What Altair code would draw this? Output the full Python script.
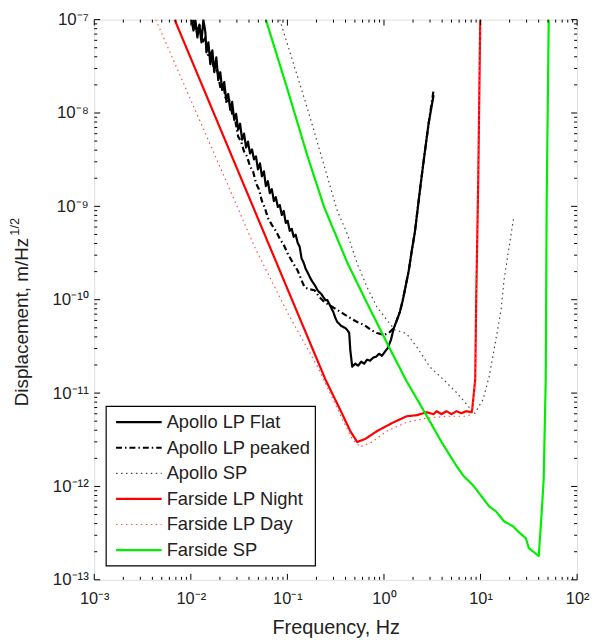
import altair as alt
import pandas as pd

# ---------------- data (log10 of frequency in Hz, log10 of displacement) ----------------
flat_logf = [-1.993, -1.973, -1.952, -1.932, -1.911, -1.890, -1.870, -1.849, -1.839, -1.818,
             -1.798, -1.777, -1.757, -1.736, -1.716, -1.695, -1.675, -1.654, -1.634, -1.613,
             -1.592, -1.572, -1.551, -1.531, -1.510, -1.490, -1.469, -1.449, -1.428, -1.408,
             -1.387, -1.366, -1.346, -1.325, -1.305, -1.284, -1.264, -1.243, -1.223, -1.202,
             -1.182, -1.161, -1.140, -1.120, -1.099, -1.079, -1.058, -1.038, -1.017, -0.997,
             -0.976, -0.955, -0.935, -0.914, -0.894, -0.873, -0.853, -0.832, -0.812, -0.791,
             -0.771, -0.750, -0.729, -0.709, -0.688, -0.668, -0.647, -0.627, -0.606, -0.586,
             -0.565, -0.545, -0.524, -0.503, -0.483, -0.462, -0.442, -0.421, -0.401, -0.380,
             -0.360, -0.349, -0.329, -0.298, -0.267, -0.236, -0.205, -0.175, -0.144, -0.113,
             -0.082, -0.051, -0.021, 0.010, 0.041, 0.072, 0.103, 0.134, 0.164, 0.195,
             0.226, 0.257, 0.288, 0.319, 0.349, 0.380, 0.421, 0.462, 0.514]
flat_logd = [-7.000, -7.117, -7.011, -7.191, -7.053, -7.244, -7.000, -7.138, -7.350, -7.244,
             -7.478, -7.329, -7.563, -7.404, -7.648, -7.563, -7.754, -7.669, -7.860, -7.796,
             -7.966, -7.881, -8.073, -8.009, -8.179, -8.115, -8.285, -8.221, -8.370, -8.306,
             -8.434, -8.391, -8.497, -8.465, -8.603, -8.540, -8.678, -8.625, -8.784, -8.731,
             -8.858, -8.816, -8.943, -8.901, -9.007, -8.986, -9.092, -9.049, -9.177, -9.155,
             -9.262, -9.241, -9.326, -9.304, -9.389, -9.432, -9.559, -9.602, -9.665, -9.708,
             -9.750, -9.793, -9.825, -9.857, -9.899, -9.920, -9.941, -9.973, -10.005, -10.005,
             -10.048, -10.090, -10.133, -10.196, -10.239, -10.260, -10.281, -10.292, -10.303, -10.324,
             -10.356, -10.536, -10.717, -10.685, -10.706, -10.664, -10.685, -10.642, -10.653, -10.621,
             -10.610, -10.579, -10.600, -10.557, -10.515, -10.430, -10.303, -10.218, -10.133, -10.005,
             -9.846, -9.687, -9.474, -9.283, -9.028, -8.763, -8.434, -8.115, -7.807]

peak_logf = [-1.973, -1.942, -1.911, -1.880, -1.849, -1.818, -1.788, -1.757, -1.726, -1.695,
             -1.664, -1.634, -1.603, -1.572, -1.541, -1.510, -1.479, -1.449, -1.418, -1.387,
             -1.356, -1.325, -1.295, -1.264, -1.233, -1.202, -1.161, -1.120, -1.079, -1.038,
             -0.997, -0.945, -0.894, -0.853, -0.822, -0.771, -0.719, -0.668, -0.616, -0.565,
             -0.514, -0.431, -0.349, -0.277, -0.205, -0.134, -0.072, 0.000, 0.051, 0.103,
             0.134, 0.164, 0.195, 0.226, 0.257, 0.288, 0.319, 0.349, 0.380, 0.421,
             0.462, 0.514]
peak_logd = [-7.000, -7.138, -7.053, -7.244, -7.191, -7.404, -7.350, -7.563, -7.542, -7.722,
             -7.690, -7.881, -7.860, -8.009, -8.073, -8.253, -8.306, -8.412, -8.465, -8.572,
             -8.625, -8.752, -8.816, -8.943, -9.018, -9.124, -9.198, -9.262, -9.347, -9.411,
             -9.506, -9.602, -9.687, -9.793, -9.867, -9.888, -9.899, -9.973, -10.026, -10.058,
             -10.090, -10.143, -10.196, -10.239, -10.271, -10.324, -10.356, -10.377, -10.356, -10.303,
             -10.218, -10.133, -10.005, -9.846, -9.687, -9.474, -9.283, -9.028, -8.763, -8.434,
             -8.115, -7.754]

asp_logf = [-1.079, -0.791, -0.483, -0.380, -0.277, -0.175, -0.072, 0.031, 0.113, 0.185,
            0.236, 0.339, 0.473, 0.616, 0.750, 0.873, 0.935, 1.027, 1.089, 1.140,
            1.182, 1.212, 1.243, 1.295, 1.346]
asp_logd = [-7.000, -7.956, -9.049, -9.294, -9.612, -9.867, -10.079, -10.218, -10.324, -10.345,
            -10.366, -10.504, -10.717, -10.855, -10.993, -11.141, -11.226, -11.067, -10.823, -10.536,
            -10.292, -10.111, -9.793, -9.442, -9.103]

night_logf = [-2.168, -0.606, -0.431, -0.349, -0.277, -0.195, -0.072, 0.103, 0.236, 0.339,
              0.442, 0.514, 0.545, 0.596, 0.647, 0.699, 0.750, 0.801, 0.853, 0.904,
              0.914, 0.945, 0.955, 0.976, 0.997]
night_logd = [-7.000, -10.855, -11.226, -11.407, -11.524, -11.492, -11.407, -11.311, -11.248, -11.237,
              -11.205, -11.226, -11.194, -11.226, -11.194, -11.226, -11.194, -11.216, -11.194, -11.205,
              -11.173, -10.855, -10.005, -8.731, -7.000]

day_logf = [-2.363, -1.634, -1.336, -0.997, -0.688, -0.431, -0.329, -0.247, -0.123, 0.031,
            0.236, 0.442, 0.647, 0.853, 0.914, 0.945, 0.955, 0.976, 0.997]
day_logd = [-7.000, -8.731, -9.442, -10.143, -10.717, -11.279, -11.492, -11.577, -11.524, -11.407,
            -11.311, -11.269, -11.248, -11.248, -11.226, -10.855, -10.005, -8.731, -7.000]

fsp_logf = [-1.223, -0.997, -0.791, -0.616, -0.380, -0.175, 0.051, 0.236, 0.421, 0.596,
            0.750, 0.822, 0.925, 1.027, 1.089, 1.160, 1.243, 1.335, 1.397, 1.469,
            1.500, 1.603, 1.634, 1.654, 1.675, 1.685, 1.706]
fsp_logd = [-7.000, -7.754, -8.465, -9.018, -9.602, -10.037, -10.504, -10.876, -11.205, -11.524,
            -11.779, -11.885, -11.991, -12.129, -12.214, -12.267, -12.373, -12.426, -12.490, -12.554,
            -12.660, -12.745, -12.267, -11.917, -10.855, -8.943, -7.000]

names = ["Apollo LP Flat", "Apollo LP peaked", "Apollo SP",
         "Farside LP Night", "Farside LP Day", "Farside SP"]
colors = ["#000000", "#000000", "#444444", "#ff0000", "#ff5050", "#00ee00"]
dashes = [[1, 0], [6, 3, 1.5, 3], [1.5, 3.5], [1, 0], [1.5, 3.5], [1, 0]]
widths = [2.2, 2.2, 1.2, 2.2, 1.2, 2.2]

x_decades = [-3, -2, -1, 0, 1, 2]
y_decades = [-13, -12, -11, -10, -9, -8, -7]

series = [
    (names[0], flat_logf, flat_logd),
    (names[1], peak_logf, peak_logd),
    (names[2], asp_logf, asp_logd),
    (names[3], night_logf, night_logd),
    (names[4], day_logf, day_logd),
    (names[5], fsp_logf, fsp_logd),
]
rows = []
for name, lf, ld in series:
    for i, (a, b) in enumerate(zip(lf, ld)):
        rows.append({"series": name, "f": 10 ** a, "d": 10 ** b, "i": i})
df = pd.DataFrame(rows)

# tick positions (axis decoration)
def tick_vals(decs):
    major, minor = [], []
    for e in decs:
        major.append(10.0 ** e)
        if e != decs[-1]:
            for k in range(2, 10):
                minor.append(k * 10.0 ** e)
    return major, minor

xmaj, xmin = tick_vals(x_decades)
ymaj, ymin = tick_vals(y_decades)

sup = str.maketrans("-0123456789", "\u207b\u2070\u00b9\u00b2\u00b3\u2074\u2075\u2076\u2077\u2078\u2079")


def label_expr(decs):
    s = "''"
    for e in decs:
        s = f"round(log(datum.value)/LN10) == {e} ? '10{str(e).translate(sup)}' : " + s
    return s


W, H = 487, 565
FONT = "Liberation Sans"
TXT = "#222222"
xscale = alt.Scale(type="log", domain=[1e-3, 1e2], nice=False)
yscale = alt.Scale(type="log", domain=[1e-13, 1e-7], nice=False)
cscale = alt.Scale(domain=names, range=colors)
dscale = alt.Scale(domain=names, range=dashes)
wscale = alt.Scale(type="ordinal", domain=names, range=widths)

xaxis = alt.Axis(values=xmaj, labelExpr=label_expr(x_decades),
                 ticks=False, domain=False, grid=False, title="Frequency, Hz",
                 labelFont=FONT, labelFontSize=16.5, labelColor=TXT,
                 labelPadding=11, titleFont=FONT, titleFontSize=20,
                 titleFontWeight="normal", titleColor=TXT, titlePadding=11,
                 labelFlush=False, labelOverlap=False)
yaxis = alt.Axis(values=ymaj, labelExpr=label_expr(y_decades),
                 ticks=False, domain=False, grid=False, title=None,
                 labelFont=FONT, labelFontSize=17, labelColor=TXT,
                 labelPadding=6, labelFlush=False, labelOverlap=False)

lines = alt.Chart(df).mark_line(clip=True, strokeJoin="round").encode(
    x=alt.X("f:Q", scale=xscale, axis=xaxis),
    y=alt.Y("d:Q", scale=yscale, axis=yaxis),
    color=alt.Color("series:N", scale=cscale, legend=None),
    strokeDash=alt.StrokeDash("series:N", scale=dscale, legend=None),
    strokeWidth=alt.StrokeWidth("series:N", scale=wscale, legend=None),
    order="i:Q",
)

def xticks(vals, length):
    d = pd.DataFrame({"v": vals})
    base = alt.Chart(d).mark_rule(color="black", strokeWidth=1)
    bot = base.encode(x=alt.X("v:Q", scale=xscale, axis=xaxis), y=alt.value(H), y2=alt.value(H - length))
    top = base.encode(x=alt.X("v:Q", scale=xscale, axis=xaxis), y=alt.value(0), y2=alt.value(length))
    return [bot, top]

def yticks(vals, length):
    d = pd.DataFrame({"v": vals})
    base = alt.Chart(d).mark_rule(color="black", strokeWidth=1)
    left = base.encode(y=alt.Y("v:Q", scale=yscale, axis=yaxis), x=alt.value(0), x2=alt.value(length))
    right = base.encode(y=alt.Y("v:Q", scale=yscale, axis=yaxis), x=alt.value(W), x2=alt.value(W - length))
    return [left, right]

tick_layers = xticks(xmaj, 6) + xticks(xmin, 3) + yticks(ymaj, 6) + yticks(ymin, 3)

# ---------------- legend (box, sample lines, labels) ----------------
LEG_X, LEG_Y, LEG_W, LEG_H = 12, 390, 211, 161
ROW0, ROWH = 16, 25.8
leg_df = pd.DataFrame({"series": names, "row": list(range(len(names)))})
leg_base = alt.Chart(leg_df).transform_calculate(
    ly=f"{LEG_Y + ROW0} + {ROWH} * datum.row"
)
leg_box = alt.Chart(pd.DataFrame({"k": [0]})).mark_rect(
    fill="white", stroke="black", strokeWidth=1.2
).encode(x=alt.value(LEG_X), x2=alt.value(LEG_X + LEG_W),
         y=alt.value(LEG_Y), y2=alt.value(LEG_Y + LEG_H))
leg_lines = leg_base.mark_rule().encode(
    x=alt.value(LEG_X + 10), x2=alt.value(LEG_X + 56),
    y=alt.Y("ly:Q", scale=None, axis=None),
    color=alt.Color("series:N", scale=cscale, legend=None),
    strokeDash=alt.StrokeDash("series:N", scale=dscale, legend=None),
    strokeWidth=alt.StrokeWidth("series:N", scale=wscale, legend=None),
)
leg_text = leg_base.mark_text(
    align="left", baseline="middle", font=FONT, fontSize=18.5, color=TXT
).encode(x=alt.value(LEG_X + 61), y=alt.Y("ly:Q", scale=None, axis=None), text="series:N")

# ---------------- y title with superscript ----------------
ytitle = alt.Chart(pd.DataFrame({"t": ["Displacement, m/Hz"]})).mark_text(
    angle=270, align="left", baseline="middle", fontSize=19, font=FONT, color=TXT
).encode(x=alt.value(-73), y=alt.value(390), text="t:N")
ysup = alt.Chart(pd.DataFrame({"t": ["1/2"]})).mark_text(
    angle=270, align="left", baseline="middle", fontSize=13, font=FONT, color=TXT
).encode(x=alt.value(-80), y=alt.value(218), text="t:N")

chart = alt.layer(lines, *tick_layers, leg_box, leg_lines, leg_text, ytitle, ysup).properties(
    width=W, height=H,
    padding={"left": 87, "top": 9, "right": 13, "bottom": 60},
    autosize=alt.AutoSizeParams(type="none"),
).configure_view(stroke="black", strokeWidth=1.2).configure(background="white")

chart.save("out.html", embed_options={"renderer": "svg", "actions": False})
